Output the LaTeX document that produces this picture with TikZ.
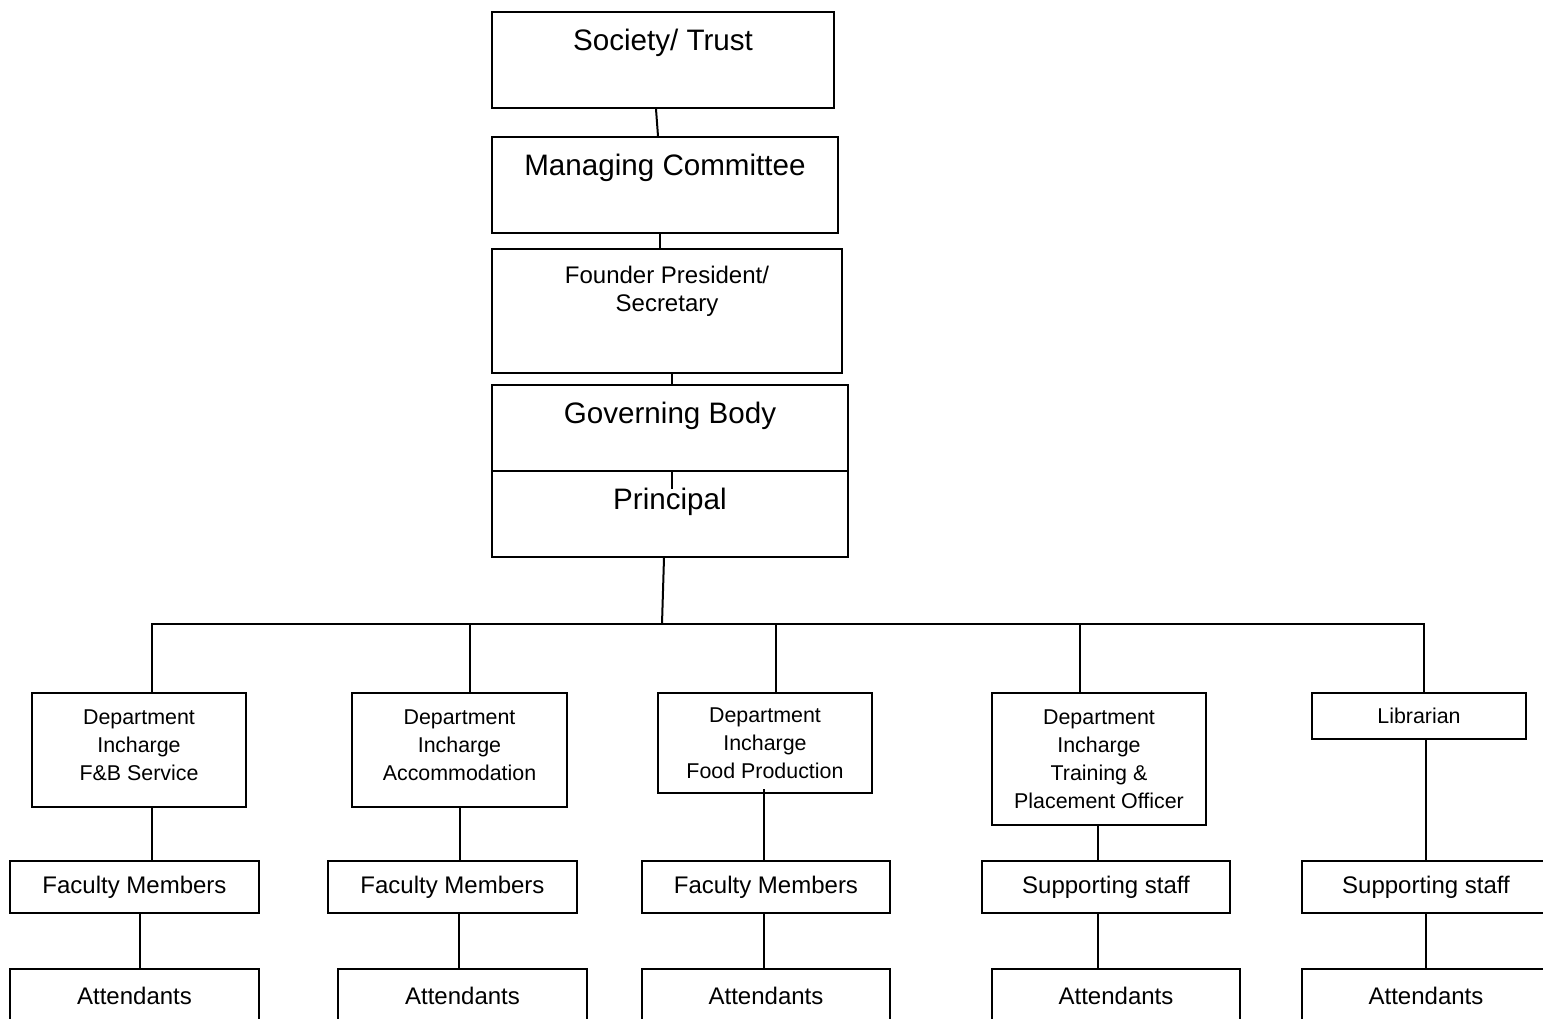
\documentclass[tikz,border=0pt]{standalone}
\usepackage{fontspec}
\setmainfont{Liberation Sans}
\usepackage{tikz}
\usetikzlibrary{positioning,%
  calc%
}
\newcommand{\lowpad}{\rule[-5pt]{0pt}{5pt}}

\begin{document}
\begin{tikzpicture}
                    [
                        x=0.5pt, y=-0.5pt,
                        line width=1pt,
                        box/.style 2 args={draw, minimum width=#1, minimum height=#2, inner sep=0pt, align=center},
                        bigfont/.style={font=\fontsize{14.8}{17}\selectfont},
                        midfont/.style={font=\fontsize{12}{14}\selectfont},
                        smallfont/.style={font=\fontsize{10.7}{14}\selectfont},
                        toptext/.style={yshift=-16pt}
                    ]

                    % Rahmen
                    \useasboundingbox (0,0) rectangle (1543,1018);
                    \clip (0,0) rectangle (1543,1018);

                    % oben
                    \node[box={171pt}{48pt}] (soc) at (663,60) {};
                    \node[bigfont, toptext] (soc-txt) at (soc.north) {Society/ Trust};
                    \node[box={173pt}{48pt}] (mgc) at (665,185) {};
                    \node[bigfont, toptext] (mgc-txt) at (mgc.north) {Managing Committee};
                    \node[box={175pt}{62pt}] (fnd) at (667,311) {};
                    \node[midfont, align=center, yshift=-21.5pt] (fnd-txt) at (fnd.north) {Founder President/\\Secretary};
                    \node[box={178pt}{43pt}] (gov) at (670,428) {};
                    \node[bigfont, toptext] (gov-txt) at (gov.north) {Governing Body};
                    \node[box={178pt}{43pt}] (prn) at (670,514) {};
                    \node[bigfont, toptext] (prn-txt) at (prn.north) {Principal};

                    % Abteilungen
                    \node[box={107pt}{57pt}, smallfont] (d1) at (139,750) {Department\\Incharge\\F\&B Service\lowpad};
                    \node[box={107.5pt}{57pt}, smallfont] (d2) at (459.5,750) {Department\\Incharge\\Accommodation\lowpad};
                    \node[box={107pt}{50pt}, smallfont] (d3) at (765,743) {Department\\Incharge\\Food Production};
                    \node[box={107pt}{66pt}, smallfont] (d4) at (1099,759) {Department\\Incharge\\Training \&\\Placement Officer};
                    \node[box={107pt}{23pt}, smallfont] (lib) at (1419,716) {Librarian};

                    \node[box={124.5pt}{26pt}, midfont] (f1) at (134.5,887) {Faculty Members};
                    \node[box={124.5pt}{26pt}, midfont] (f2) at (452.5,887) {Faculty Members};
                    \node[box={124pt}{26pt}, midfont] (f3) at (766,887) {Faculty Members};
                    \node[box={124pt}{26pt}, midfont] (f4) at (1106,887) {Supporting staff};
                    \node[box={124pt}{26pt}, midfont] (f5) at (1426,887) {Supporting staff};

                    \node[box={124.5pt}{26.5pt}, midfont] (a1) at (134.5,995.5) {Attendants};
                    \node[box={124.5pt}{26.5pt}, midfont] (a2) at (462.5,995.5) {Attendants};
                    \node[box={124pt}{26.5pt}, midfont] (a3) at (766,995.5) {Attendants};
                    \node[box={124pt}{26.5pt}, midfont] (a4) at (1116,995.5) {Attendants};
                    \node[box={124pt}{26.5pt}, midfont] (a5) at (1426,995.5) {Attendants};

                    % Linien
                    \draw ([xshift=-3.5pt]soc.south) -- ([xshift=-3.5pt]mgc.north);
                    \draw ([xshift=-2.5pt]mgc.south) -- ([xshift=-2.5pt]mgc.south |- fnd.north);
                    \draw ([xshift=2.5pt]fnd.south) -- ([xshift=2.5pt]fnd.south |- gov.north);
                    \draw ([xshift=1pt]gov.south) -- ++(0,17);
                    \coordinate (hub) at (662,624);
                    \draw ([xshift=-3pt]prn.south) -- (hub);
                    \draw ([xshift=6.5pt]d1.north) -- ([xshift=6.5pt]d1.north |- hub)
                        -- ([xshift=2.5pt]lib.north |- hub) -- ([xshift=2.5pt]lib.north);
                    \foreach \n/\dx in {d2/5.25pt, d3/5.5pt, d4/-9.5pt}
                        \draw ([xshift=\dx]\n.north) -- ([xshift=\dx]\n.north |- hub);
                    \foreach \up/\lo/\dx in {d1/f1/6.5pt, d2/f2/0pt, d4/f4/-0.5pt, lib/f5/3.5pt,
                                            f1/a1/2.75pt, f2/a2/3.25pt, f3/a3/-1pt, f4/a4/-4pt, f5/a5/0pt}
                        \draw ([xshift=\dx]\up.south) -- ([xshift=\dx]\up.south |- \lo.north);
                    \draw ([xshift=-0.5pt, yshift=2.5pt]d3.south) -- ([xshift=-0.5pt]d3.south |- f3.north);
                \end{tikzpicture}
\end{document}
